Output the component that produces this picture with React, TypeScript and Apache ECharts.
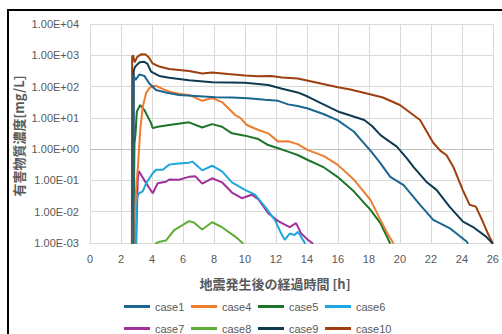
import React, { useEffect, useRef } from "react";
import * as echarts from "echarts";

const seriesNames = ["case1", "case4", "case5", "case6", "case7", "case8", "case9", "case10"];
const colors = ["#1b668f", "#ed7d31", "#1e7426", "#1ea6de", "#a0309c", "#5eac36", "#0f3a50", "#9e3f0f"];

const case1: number[][] = [
  [2.8, 0.0001], [2.81, 234], [2.94, 162], [3.19, 245], [3.51, 219], [3.83, 126], [4.26, 78], [4.9, 65],
  [5.75, 54], [6.8, 50], [8.1, 45.7], [9.15, 44.7], [10.2, 42.7], [11.3, 38], [12.14, 35], [12.78, 27],
  [13.4, 24], [14.06, 20], [15.1, 13], [15.97, 8.5], [17.04, 3.6], [17.5, 1.95], [18.1, 0.9], [18.7, 0.38],
  [19.38, 0.13], [20.24, 0.071], [21.3, 0.0166], [22.15, 0.0055], [23.2, 0.003], [24.3, 0.00112], [24.4, 0.00095],
];
const case4: number[][] = [
  [2.8, 0.0001], [2.82, 0.005], [2.9, 0.012], [3.0, 0.08], [3.1, 0.3], [3.24, 4.1], [3.41, 23], [3.62, 62],
  [3.83, 89], [4.1, 105], [4.3, 104], [4.9, 76], [5.11, 69], [5.74, 59], [6.39, 54], [7.24, 35], [7.88, 43],
  [8.52, 32], [9.37, 12.3], [9.7, 10], [10.12, 5.9], [10.86, 4.1], [11.5, 3.2], [12.14, 1.74], [12.78, 1.78],
  [13.4, 1.45], [14.06, 0.93], [15.1, 0.6], [15.97, 0.32], [17.04, 0.105], [18.1, 0.024], [18.74, 0.0055],
  [19.2, 0.002], [19.6, 0.00095],
];
const case5: number[][] = [
  [2.78, 0.0001], [2.87, 1.5], [2.94, 3.2], [3.02, 15.8], [3.24, 25.7], [3.51, 17.8], [3.94, 6.8], [4.05, 4.7],
  [4.37, 5.2], [5.11, 5.9], [6.39, 7.2], [7.24, 4.9], [7.88, 6.3], [8.52, 5.2], [9.16, 3.2], [10.0, 2.7],
  [10.86, 2.1], [11.5, 1.35], [12.14, 1.07], [12.78, 0.83], [13.4, 0.65], [14.06, 0.45], [15.1, 0.26],
  [15.97, 0.13], [17.04, 0.044], [18.1, 0.0115], [18.74, 0.0043], [19.38, 0.00095],
];
const case6: number[][] = [
  [2.95, 0.0001], [3.0, 0.021], [3.1, 0.035], [3.19, 0.039], [3.4, 0.045], [3.62, 0.081], [4.05, 0.17],
  [4.26, 0.22], [4.7, 0.22], [5.11, 0.32], [5.54, 0.34], [6.39, 0.37], [6.6, 0.4], [7.24, 0.21], [7.88, 0.295],
  [8.52, 0.195], [9.16, 0.087], [10.0, 0.05], [10.65, 0.035], [11.29, 0.0145], [11.93, 0.0055], [12.3, 0.0022],
  [12.57, 0.00126], [12.89, 0.002], [13.2, 0.0018], [13.42, 0.0023], [13.74, 0.00126], [13.9, 0.00095],
];
const case7: number[][] = [
  [2.95, 0.0001], [3.0, 0.003], [3.08, 0.1], [3.15, 0.2], [3.6, 0.085], [4.05, 0.039], [4.37, 0.081],
  [4.9, 0.091], [5.11, 0.107], [5.74, 0.105], [6.39, 0.13], [6.8, 0.135], [7.24, 0.079], [7.88, 0.117],
  [8.52, 0.087], [9.16, 0.041], [9.8, 0.027], [10.44, 0.035], [10.86, 0.025], [11.5, 0.0089], [12.14, 0.005],
  [12.89, 0.0032], [13.3, 0.0043], [13.63, 0.002], [14.06, 0.00126], [14.4, 0.00095],
];
const case8: number[][] = [
  [4.2, 0.00095], [4.5, 0.0011], [4.9, 0.0012], [5.43, 0.0026], [5.75, 0.0032], [6.39, 0.005], [6.7, 0.0045],
  [7.24, 0.0027], [7.88, 0.0046], [8.52, 0.0032], [9.37, 0.0016], [9.9, 0.00095],
];
const case9: number[][] = [
  [2.8, 0.0001], [2.82, 300], [2.87, 390], [2.95, 450], [3.2, 600], [3.5, 620], [3.7, 540], [3.94, 300],
  [4.47, 219], [5.11, 190], [6.39, 158], [7.88, 138], [10.0, 132], [11.5, 112], [12.4, 85], [13.4, 65],
  [14.05, 48], [14.9, 29.5], [16.0, 16], [17.7, 8.5], [18.2, 5.5], [18.75, 2.8], [19.2, 1.95], [19.8, 1.2],
  [20.45, 0.51], [20.9, 0.26], [21.7, 0.091], [22.36, 0.05], [23.2, 0.0145], [24.07, 0.0048], [24.7, 0.0033],
  [25.56, 0.0016], [26.0, 0.00095],
];
const case10: number[][] = [
  [2.7, 0.0001], [2.72, 890], [2.78, 1000], [2.88, 600], [3.05, 890], [3.3, 1070], [3.6, 1050], [3.8, 850],
  [4.04, 550], [4.47, 437], [5.11, 363], [6.4, 316], [7.24, 263], [7.88, 282], [8.9, 251], [10.0, 224],
  [10.85, 214], [11.7, 219], [12.4, 195], [13.4, 182], [14.6, 135], [16.0, 95], [16.8, 81], [18.0, 57.5],
  [18.9, 44.7], [20.0, 25.7], [21.3, 8.5], [22.15, 1.6], [22.6, 0.9], [23.0, 0.65], [23.45, 0.27],
  [24.05, 0.05], [24.5, 0.0166], [24.9, 0.0145], [25.35, 0.0048], [25.7, 0.0019], [26.0, 0.00095],
];
const seriesData = [case1, case4, case5, case6, case7, case8, case9, case10];

const xTicks = { min: 0, max: 26, interval: 2 };
const yRange = { min: 0.001, max: 10000 };

const fmtSci = (v: number) => {
  const e = Math.round(Math.log10(v));
  return `1.00E${e < 0 ? "-" : "+"}${String(Math.abs(e)).padStart(2, "0")}`;
};

export default function App() {
  const ref = useRef<HTMLDivElement>(null);
  useEffect(() => {
    if (!ref.current) return;
    const chart = echarts.init(ref.current, null, { renderer: "svg" });
    const font = "'Liberation Sans', Arial, sans-serif";
    const legends = seriesNames.map((name, i) => ({
      icon: "rect",
      itemWidth: 26,
      itemHeight: 3,
      itemGap: 0,
      padding: 0,
      left: 124 + (i % 4) * 67,
      top: i < 4 ? 301 : 323,
      orient: "horizontal",
      selectedMode: false,
      textStyle: { color: "#595959", fontSize: 11, fontFamily: font },
      data: [name],
    }));
    chart.setOption({
      animation: false,
      backgroundColor: "#ffffff",
      textStyle: { fontFamily: font },
      grid: { left: 90, right: 5, top: 24, bottom: 91, containLabel: false },
      legend: legends,
      xAxis: {
        type: "value",
        min: xTicks.min,
        max: xTicks.max,
        interval: xTicks.interval,
        axisLine: { show: true, lineStyle: { color: "#d9d9d9" } },
        axisTick: { show: false },
        splitLine: { show: true, lineStyle: { color: "#d9d9d9" } },
        axisLabel: { color: "#595959", fontSize: 11, fontFamily: font, margin: 10 },
      },
      yAxis: {
        type: "log",
        logBase: 10,
        min: yRange.min,
        max: yRange.max,
        splitNumber: 7,
        axisLine: { show: true, lineStyle: { color: "#d9d9d9" } },
        axisTick: { show: false },
        splitLine: { show: true, lineStyle: { color: "#d9d9d9" } },
        axisLabel: { color: "#595959", fontSize: 11, fontFamily: font, margin: 11, formatter: fmtSci },
      },
      series: seriesNames.map((name, i) => ({
        name,
        type: "line",
        data: seriesData[i],
        showSymbol: false,
        symbol: "none",
        clip: true,
        color: colors[i],
        lineStyle: { width: 2, color: colors[i] },
        z: 10 - i,
        ...(i === 0
          ? {
              markLine: {
                silent: true,
                symbol: "none",
                label: { show: false },
                lineStyle: { color: "#bfbfbf", type: "solid", width: 1 },
                data: [{ yAxis: 1 }],
                z: 1,
              },
            }
          : {}),
      })),
      graphic: [
        {
          type: "rect",
          shape: { x: 8, y: 10, width: 600, height: 400 },
          style: { fill: "none", stroke: "#000000", lineWidth: 2 },
          silent: true,
        },
        {
          type: "text",
          x: 18,
          y: 136,
          rotation: Math.PI / 2,
          style: {
            text: "有害物質濃度[mg/L]",
            fill: "#595959",
            font: "bold 13px 'Noto Sans CJK JP', sans-serif",
            align: "center",
            verticalAlign: "middle",
          },
        },
        {
          type: "text",
          x: 275,
          y: 283,
          style: {
            text: "地震発生後の経過時間 [h]",
            fill: "#595959",
            font: "bold 13px 'Noto Sans CJK JP', sans-serif",
            align: "center",
            verticalAlign: "middle",
          },
        },
      ],
    });
    return () => chart.dispose();
  }, []);
  return (
    <div
      ref={ref}
      style={{ position: "fixed", left: 0, top: 0, width: 502, height: 334, background: "#fff" }}
    />
  );
}
